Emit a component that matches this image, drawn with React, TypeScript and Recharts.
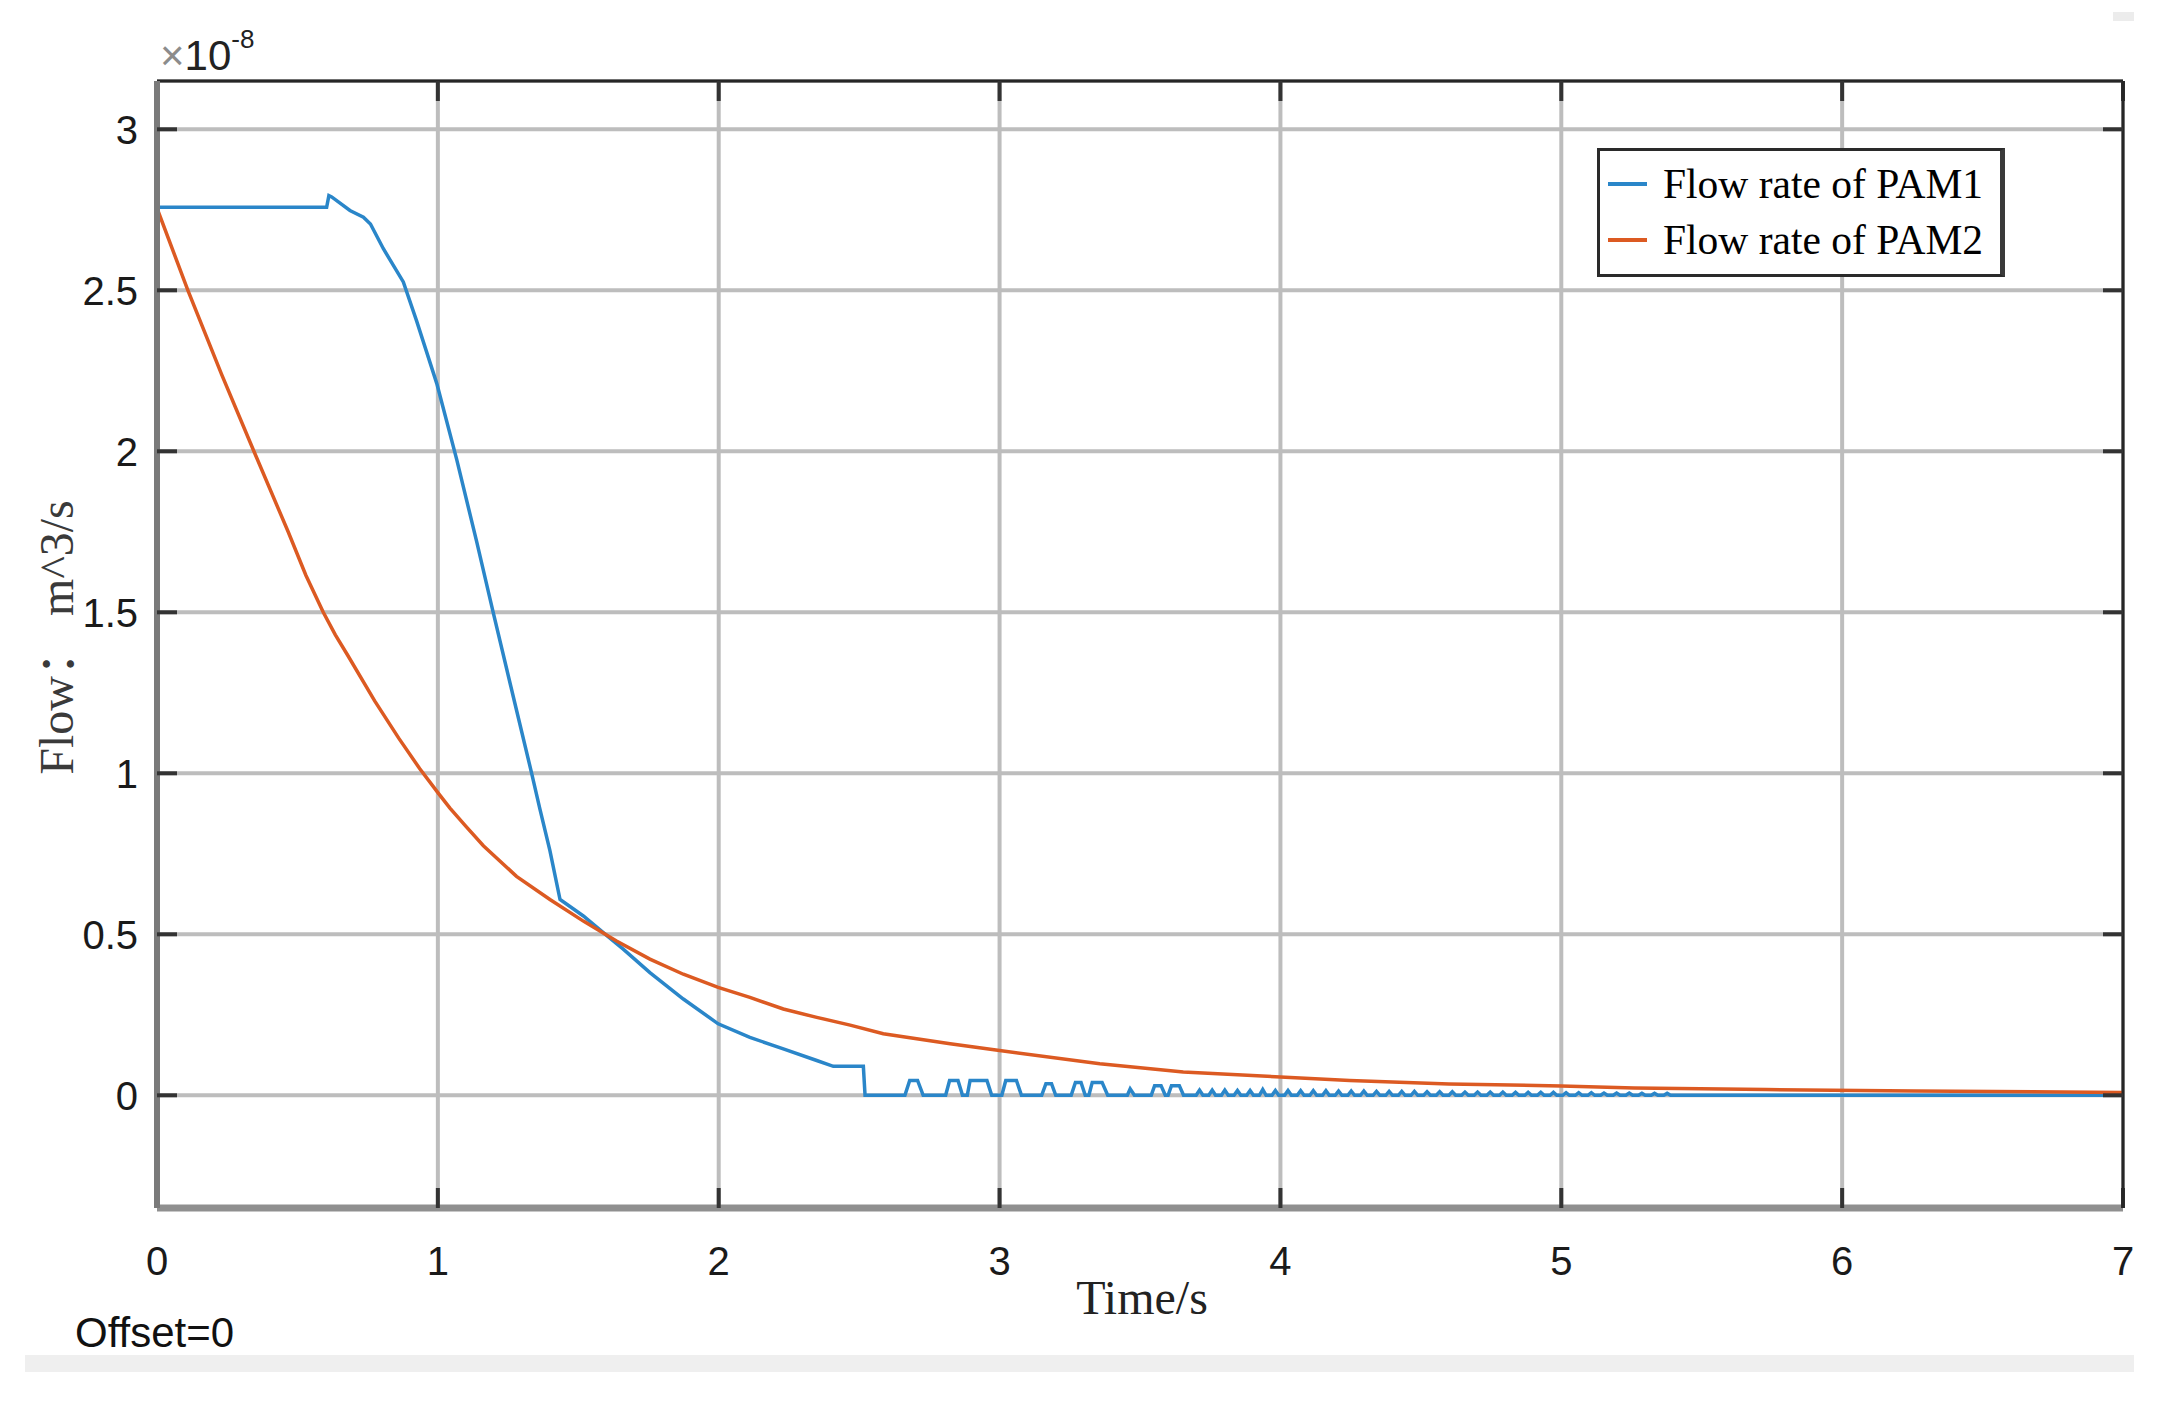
import React from 'react';
import { LineChart, Line, XAxis, YAxis, CartesianGrid, Legend } from 'recharts';

const xTicks = [0, 1, 2, 3, 4, 5, 6, 7];
const yTicks = [0, 0.5, 1, 1.5, 2, 2.5, 3];
const seriesNames = ['Flow rate of PAM1', 'Flow rate of PAM2'];
const seriesColors = ['#2a86c9', '#dc5a22'];

// PAM1 flow (x1e-8 m^3/s) vs time (s)
const pam1Time = [
  0, 0.604, 0.612, 0.622, 0.687, 0.735, 0.76, 0.806, 0.877, 0.924, 0.996, 1.067, 1.138, 1.197,
  1.268, 1.334, 1.363, 1.399, 1.435, 1.518, 1.589, 1.66, 1.755, 1.874, 1.998, 2.111, 2.23,
  2.349, 2.408, 2.515, 2.521,
  2.663, 2.68, 2.708, 2.728, 2.808, 2.822, 2.852, 2.868, 2.885, 2.895, 2.955, 2.972,
  3.008, 3.022, 3.06, 3.078, 3.15, 3.165, 3.185, 3.2, 3.255, 3.27, 3.29, 3.305, 3.318, 3.33,
  3.365, 3.385, 3.455, 3.465, 3.48, 3.54, 3.552, 3.575, 3.59, 3.6, 3.612, 3.64, 3.655,
  3.7, 3.712, 3.724, 3.745, 3.757, 3.769, 3.79, 3.802, 3.814, 3.835, 3.847, 3.859,
  3.88, 3.892, 3.904, 3.925, 3.937, 3.949, 3.97, 3.982, 3.994, 4.015, 4.027, 4.039,
  4.06, 4.072, 4.084, 4.105, 4.117, 4.129, 4.15, 4.162, 4.174, 4.195, 4.207, 4.219,
  4.24, 4.252, 4.264, 4.285, 4.297, 4.309, 4.33, 4.342, 4.354, 4.375, 4.387, 4.399,
  4.42, 4.432, 4.444, 4.465, 4.477, 4.489, 4.51, 4.522, 4.534, 4.555, 4.567, 4.579,
  4.6, 4.612, 4.624, 4.645, 4.657, 4.669, 4.69, 4.702, 4.714, 4.735, 4.747, 4.759,
  4.78, 4.792, 4.804, 4.825, 4.837, 4.849, 4.87, 4.882, 4.894, 4.915, 4.927, 4.939,
  4.96, 4.972, 4.984, 5.005, 5.017, 5.029, 5.05, 5.062, 5.074, 5.095, 5.107, 5.119,
  5.14, 5.152, 5.164, 5.185, 5.197, 5.209, 5.23, 5.242, 5.254, 5.275, 5.287, 5.299,
  5.32, 5.332, 5.344, 5.365, 5.377, 5.389, 7.0,
];
const pam1Flow = [
  2.758, 2.758, 2.794, 2.79, 2.748, 2.727, 2.706, 2.629, 2.526, 2.406, 2.211, 1.975, 1.72, 1.5,
  1.24, 1.0, 0.89, 0.76, 0.608, 0.557, 0.505, 0.454, 0.381, 0.299, 0.222, 0.18, 0.144,
  0.108, 0.09, 0.09, 0,
  0, 0.046, 0.046, 0, 0, 0.046, 0.046, 0, 0, 0.046, 0.046, 0,
  0, 0.046, 0.046, 0, 0, 0.036, 0.036, 0, 0, 0.04, 0.04, 0, 0, 0.04,
  0.04, 0, 0, 0.02, 0, 0, 0.03, 0.03, 0, 0, 0.03, 0.03, 0,
  0, 0.016, 0, 0, 0.016, 0, 0, 0.016, 0, 0, 0.015, 0,
  0, 0.015, 0, 0, 0.018, 0, 0, 0.015, 0, 0, 0.015, 0,
  0, 0.014, 0, 0, 0.014, 0, 0, 0.014, 0, 0, 0.013, 0,
  0, 0.013, 0, 0, 0.013, 0, 0, 0.012, 0, 0, 0.012, 0,
  0, 0.012, 0, 0, 0.012, 0, 0, 0.011, 0, 0, 0.011, 0,
  0, 0.011, 0, 0, 0.01, 0, 0, 0.01, 0, 0, 0.01, 0,
  0, 0.01, 0, 0, 0.009, 0, 0, 0.009, 0, 0, 0.009, 0,
  0, 0.009, 0, 0, 0.008, 0, 0, 0.008, 0, 0, 0.008, 0,
  0, 0.007, 0, 0, 0.007, 0, 0, 0.007, 0, 0, 0.006, 0,
  0, 0.006, 0, 0, 0.006, 0, 0,
];

// PAM2 flow (x1e-8 m^3/s) vs time (s)
const pam2Time = [
  0, 0.11, 0.23, 0.345, 0.467, 0.53, 0.592, 0.635, 0.68, 0.775, 0.86, 0.935, 1.0, 1.043, 1.1,
  1.162, 1.28, 1.399, 1.518, 1.636, 1.755, 1.874, 1.998, 2.111, 2.23, 2.349, 2.468, 2.586, 2.824,
  3.0, 3.357, 3.654, 4.0, 4.247, 4.6, 5.0, 5.26, 5.73, 6.26, 7.0,
];
const pam2Flow = [
  2.755, 2.5, 2.239, 2.0, 1.75, 1.615, 1.5, 1.43, 1.365, 1.225, 1.11, 1.015, 0.94, 0.892, 0.835,
  0.775, 0.68, 0.608, 0.541, 0.479, 0.423, 0.376, 0.335, 0.304, 0.268, 0.242, 0.218, 0.191, 0.16,
  0.139, 0.098, 0.072, 0.057, 0.046, 0.035, 0.029, 0.023, 0.018, 0.013, 0.009,
];

const pam1Data = pam1Time.map((t, i) => ({ t, v: pam1Flow[i] }));
const pam2Data = pam2Time.map((t, i) => ({ t, v: pam2Flow[i] }));

const SANS = "'Liberation Sans', Arial, sans-serif";
const SERIF = "'Liberation Serif', 'Times New Roman', 'Noto Sans CJK SC', serif";

const LegendBox = (props: any) => {
  const items = props.payload || [];
  return (
    <div
      style={{
        position: 'relative',
        width: 408,
        height: 129,
        boxSizing: 'border-box',
        border: '3px solid #2a2a2a',
        borderRight: '5px solid #3a3a3a',
        background: '#fff',
      }}
    >
      <svg width={400} height={123} style={{ position: 'absolute', left: 0, top: 0 }}>
        {items.map((it: any, i: number) => (
          <g key={i}>
            <line x1={8} x2={47} y1={33 + 56 * i} y2={33 + 56 * i} stroke={it.color} strokeWidth={4} />
            <text x={63} y={47 + 56 * i} fontFamily={SERIF} fontSize={41.5} fill="#000">
              {it.value}
            </text>
          </g>
        ))}
      </svg>
    </div>
  );
};

const YLabel = (props: any) => {
  const vb = props.viewBox || { x: 97, y: 81, width: 60, height: 1127 };
  const cx = vb.x - 41;
  const cy = vb.y + vb.height / 2 - 7;
  return (
    <text
      x={cx}
      y={cy}
      transform={`rotate(-90, ${cx}, ${cy})`}
      textAnchor="middle"
      dominantBaseline="central"
      fontFamily={SERIF}
      fontSize={48}
      fill="#3a3a3a"
    >
      Flow： m^3/s
    </text>
  );
};

const BottomLabel = (props: any) => {
  const vb = props.viewBox || { x: 157, y: 1208, width: 1966, height: 60 };
  return (
    <g>
      <text
        x={vb.x + vb.width / 2 + 2}
        y={vb.y + 106}
        textAnchor="middle"
        fontFamily={SERIF}
        fontSize={48}
        fill="#222"
      >
        Time/s
      </text>
      <text x={vb.x - 82} y={vb.y + 139} fontFamily={SANS} fontSize={42} fill="#111">
        Offset=0
      </text>
    </g>
  );
};

const TopLabel = (props: any) => {
  const vb = props.viewBox || { x: 157, y: 80, width: 1966, height: 1 };
  return (
    <text x={vb.x + 3} y={vb.y - 10} fontFamily={SANS} fontSize={42} fill="#222">
      <tspan fill="#8c8c8c">×</tspan>
      <tspan>10</tspan>
      <tspan dy={-22} fontSize={26}>-8</tspan>
    </text>
  );
};

const Empty = () => <g />;

export default function App() {
  return (
    <div style={{ position: 'absolute', left: 0, top: 0, width: 2173, height: 1415, background: '#fff' }}>
      <div style={{ position: 'absolute', left: 25, top: 1355, width: 2109, height: 17, background: '#efefef' }} />
      <div style={{ position: 'absolute', left: 2113, top: 12, width: 21, height: 9, background: '#ececec' }} />
      <div style={{ position: 'absolute', left: 0, top: 0 }}>
        <LineChart width={2173} height={1415} margin={{ top: 80, right: 49, bottom: 147, left: 97 }}>
          <CartesianGrid xAxisId="b" yAxisId="l" stroke="#bdbdbd" strokeWidth={4} />
          <XAxis
            xAxisId="b"
            dataKey="t"
            type="number"
            domain={[0, 7]}
            ticks={xTicks}
            allowDataOverflow
            height={60}
            axisLine={{ stroke: '#8f8f8f', strokeWidth: 7 }}
            tickLine={{ stroke: '#333', strokeWidth: 4 }}
            tickSize={-20}
            tickMargin={59}
            tick={{ fontSize: 40, fill: '#1a1a1a', fontFamily: SANS }}
            label={<BottomLabel />}
          />
          <XAxis
            xAxisId="t"
            orientation="top"
            dataKey="t"
            type="number"
            domain={[0, 7]}
            ticks={xTicks}
            allowDataOverflow
            height={1}
            axisLine={{ stroke: '#262626', strokeWidth: 3 }}
            tickLine={{ stroke: '#333', strokeWidth: 4 }}
            tickSize={-20}
            tick={Empty}
            label={<TopLabel />}
          />
          <YAxis
            yAxisId="l"
            type="number"
            domain={[-0.35, 3.15]}
            ticks={yTicks}
            allowDataOverflow
            width={60}
            axisLine={{ stroke: '#7a7a7a', strokeWidth: 6 }}
            tickLine={{ stroke: '#333', strokeWidth: 4 }}
            tickSize={-20}
            tickMargin={39}
            tick={{ fontSize: 40, fill: '#1a1a1a', fontFamily: SANS }}
            label={<YLabel />}
          />
          <YAxis
            yAxisId="r"
            orientation="right"
            type="number"
            domain={[-0.35, 3.15]}
            ticks={yTicks}
            allowDataOverflow
            width={1}
            axisLine={{ stroke: '#262626', strokeWidth: 3 }}
            tickLine={{ stroke: '#333', strokeWidth: 4 }}
            tickSize={-20}
            tick={Empty}
          />
          <Legend
            layout="vertical"
            align="center"
            verticalAlign="middle"
            wrapperStyle={{ left: 1597, top: 148, width: 408, height: 129 }}
            content={<LegendBox />}
          />
          <Line
            data={pam1Data}
            xAxisId="b"
            yAxisId="l"
            dataKey="v"
            name={seriesNames[0]}
            type="linear"
            stroke={seriesColors[0]}
            strokeWidth={3.5}
            dot={false}
            activeDot={false}
            isAnimationActive={false}
          />
          <Line
            data={pam2Data}
            xAxisId="b"
            yAxisId="l"
            dataKey="v"
            name={seriesNames[1]}
            type="linear"
            stroke={seriesColors[1]}
            strokeWidth={3.5}
            dot={false}
            activeDot={false}
            isAnimationActive={false}
          />
        </LineChart>
      </div>
    </div>
  );
}
